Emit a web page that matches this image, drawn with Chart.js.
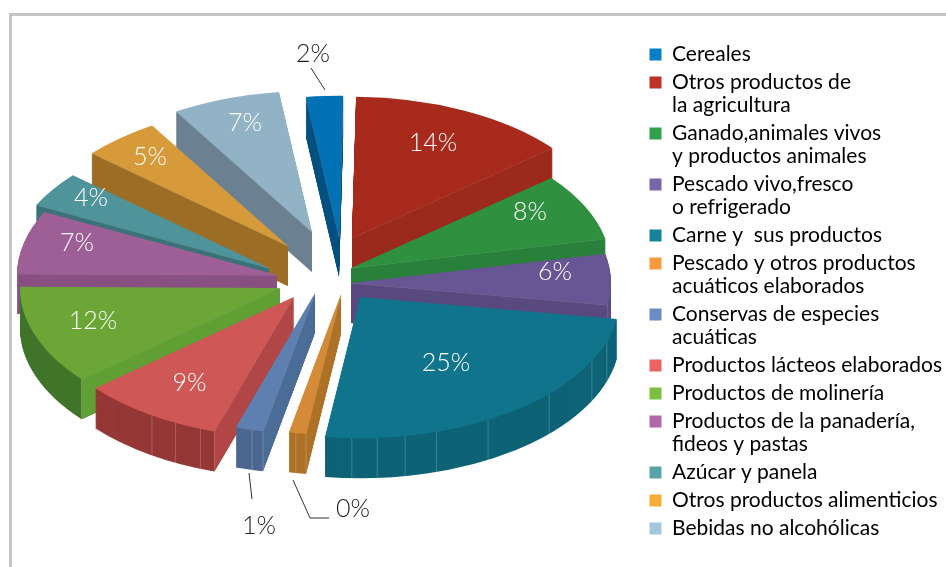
<!DOCTYPE html>
<html><head><meta charset="utf-8">
<style>
html,body{margin:0;padding:0;background:#fff;overflow:hidden;width:946px;height:567px}
#frame{position:absolute;left:9px;top:13px;width:960px;height:600px;border:3px solid #c4c4c4;box-sizing:border-box}
canvas{position:absolute;left:0;top:0}
</style>
<script src="https://cdn.jsdelivr.net/npm/chart.js@4"></script>
</head><body><div id="frame"></div><canvas id="c" width="946" height="567"></canvas>
<script>
const categories = ['Cereales','Otros productos de\nla agricultura','Ganado,animales vivos\ny productos animales','Pescado vivo,fresco\no refrigerado','Carne y  sus productos','Pescado y otros productos\nacuáticos elaborados','Conservas de especies\nacuáticas','Productos lácteos elaborados','Productos de molinería','Productos de la panadería,\nfideos y pastas','Azúcar y panela','Otros productos alimenticios','Bebidas no alcohólicas'];
const sliceShares = [2.28,13.75,7.67,5.81,24.67,1.06,1.72,8.89,11.33,7.22,4.03,4.86,6.72];
const shareLabels = ['2%','14%','8%','6%','25%','0%','1%','9%','12%','7%','4%','5%','7%'];
const topColors = ['#0272b5','#a82a1c','#2f903f','#675693','#10748c','#d58a37','#5e80b0','#cf5755','#6ba636','#9d5f95','#4f939b','#d69a3a','#92b2c6'];
const wallColors = ['#035080','#8f2618','#28803a','#59497f','#0e6376','#ad7226','#4c6790','#953836','#40752a','#885080','#3a7278','#9c6d24','#6b8192'];
const faceColors = ['#035080','#9c2a1c','#28803a','#59497f','#0e6376','#ad7226','#4c6c98','#b04645','#609f33','#885080','#3a7278','#9c6d24','#6b8192'];
const legendColors = ['#0a7fc8','#bd3127','#30a04a','#7b63a9','#148299','#f79a3e','#6b8cc3','#ec6461','#7cbf3f','#b268a8','#57a3a8','#f9ab38','#a2c6dc'];

// 3D layout (not data): where each slice's tip lands, paint order, tilt
const FONT = 'Lato';
const TILT = 0.543, DEPTH = 40;
const tips = [[339,237],[352,238],[351,268],[351,283],[360,297],[341,294],[315,293],[293.6,297],[280,288],[277,275],[269,268],[288,246],[312,232]];
const paintOrder = [0,12,11,10,1,2,3,9,8,7,4,6,5];
const labelOffsets = [[-26,-183],[81,-95],[179,-56],[204,-11],[86,66],[12,215],[-56,233],[-104,86],[-187,33],[-200,-32],[-178,-70],[-138,-89],[-67,-109]];
const leaders = {0:[[-28,-169],[-14,-147]],6:[[-66,180],[-63,206]],5:[[-48,186],[-31,224],[-12,224]]};
const seams = {4:[108.3,116.9,133.3,150.5,162.9,170,176.2,181.8],7:[201,207,213],6:[194],5:[190]};

const pie3d = {
  id:'pie3d',
  afterLayout(chart){ chart.legend.left = 644.5; },
  beforeDatasetsDraw(chart){
    const ctx = chart.ctx, arcs = chart.getDatasetMeta(0).data;
    const place = (el,i,dy)=>{ ctx.translate(tips[i][0],tips[i][1]+dy); ctx.scale(1,TILT); ctx.translate(-el.x,-el.y); };
    paintOrder.forEach(i=>{
      const el = arcs[i], opts = el.options, T = tips[i], r = el.outerRadius;
      const rim = a=>[T[0]+r*Math.cos(a), T[1]+r*Math.sin(a)*TILT];
      el.options = Object.assign({},opts,{backgroundColor:wallColors[i],borderWidth:0});
      for(let d=DEPTH;d>0;d--){ ctx.save(); place(el,i,d); el.draw(ctx); ctx.restore(); }
      // seams on the outer wall
      ctx.save(); ctx.strokeStyle='rgba(255,255,255,.25)'; ctx.lineWidth=.8;
      (seams[i]||[]).forEach(deg=>{ const a=(deg-90)*Math.PI/180, p=rim(a);
        ctx.beginPath(); ctx.moveTo(p[0],p[1]); ctx.lineTo(p[0],p[1]+DEPTH); ctx.stroke(); });
      ctx.restore();
      // visible cut faces
      const mid = rim((el.startAngle+el.endAngle)/2), my=[(mid[0]+T[0])/2,(mid[1]+T[1])/2];
      [el.startAngle,el.endAngle].forEach(a=>{
        const p = rim(a), ex=p[0]-T[0], ey=p[1]-T[1];
        const s = ex*(my[1]-T[1])-ey*(my[0]-T[0]);
        if (s*ex > 0) return;
        ctx.fillStyle = faceColors[i];
        ctx.beginPath(); ctx.moveTo(T[0],T[1]); ctx.lineTo(p[0],p[1]); ctx.lineTo(p[0],p[1]+DEPTH); ctx.lineTo(T[0],T[1]+DEPTH); ctx.closePath(); ctx.fill();
        ctx.strokeStyle='rgba(255,255,255,.25)'; ctx.lineWidth=.8;
        ctx.beginPath(); ctx.moveTo(T[0],T[1]); ctx.lineTo(p[0],p[1]); ctx.lineTo(p[0],p[1]+DEPTH); ctx.stroke();
      });
      el.options = opts;
      ctx.save(); place(el,i,0); el.draw(ctx); ctx.restore();
    });
    // percentage labels and leader lines
    ctx.save(); ctx.textAlign='center'; ctx.textBaseline='middle';
    ctx.font = '300 25px '+FONT;
    arcs.forEach((el,i)=>{
      const out = !!leaders[i];
      ctx.fillStyle = out ? '#222222' : '#ffffff';
      ctx.fillText(shareLabels[i], tips[i][0]+labelOffsets[i][0], tips[i][1]+labelOffsets[i][1]);
      if(out){ ctx.strokeStyle='#333'; ctx.lineWidth=1; ctx.beginPath();
        leaders[i].forEach((p,k)=>{ const x=tips[i][0]+p[0], y=tips[i][1]+p[1]; k?ctx.lineTo(x,y):ctx.moveTo(x,y); }); ctx.stroke(); }
    });
    ctx.restore();
    return false;
  }
};

new Chart(document.getElementById('c'),{
  type:'pie',
  plugins:[pie3d],
  data:{labels:categories,datasets:[{data:sliceShares,backgroundColor:topColors,borderWidth:0}]},
  options:{
    responsive:false,animation:false,radius:260,rotation:-7.3,
    layout:{padding:{top:39,bottom:0,left:0,right:0}},
    plugins:{
      tooltip:{enabled:false},
      legend:{position:'right',align:'start',
        labels:{boxWidth:12,boxHeight:12,padding:5,color:'#404040',
          font:{family:FONT,size:21,lineHeight:23/21},
          generateLabels:()=>categories.map((c,i)=>({text:c.split('\n'),fillStyle:legendColors[i],strokeStyle:legendColors[i],lineWidth:0,index:i,hidden:false}))}}
    }
  }
});
</script></body></html>
